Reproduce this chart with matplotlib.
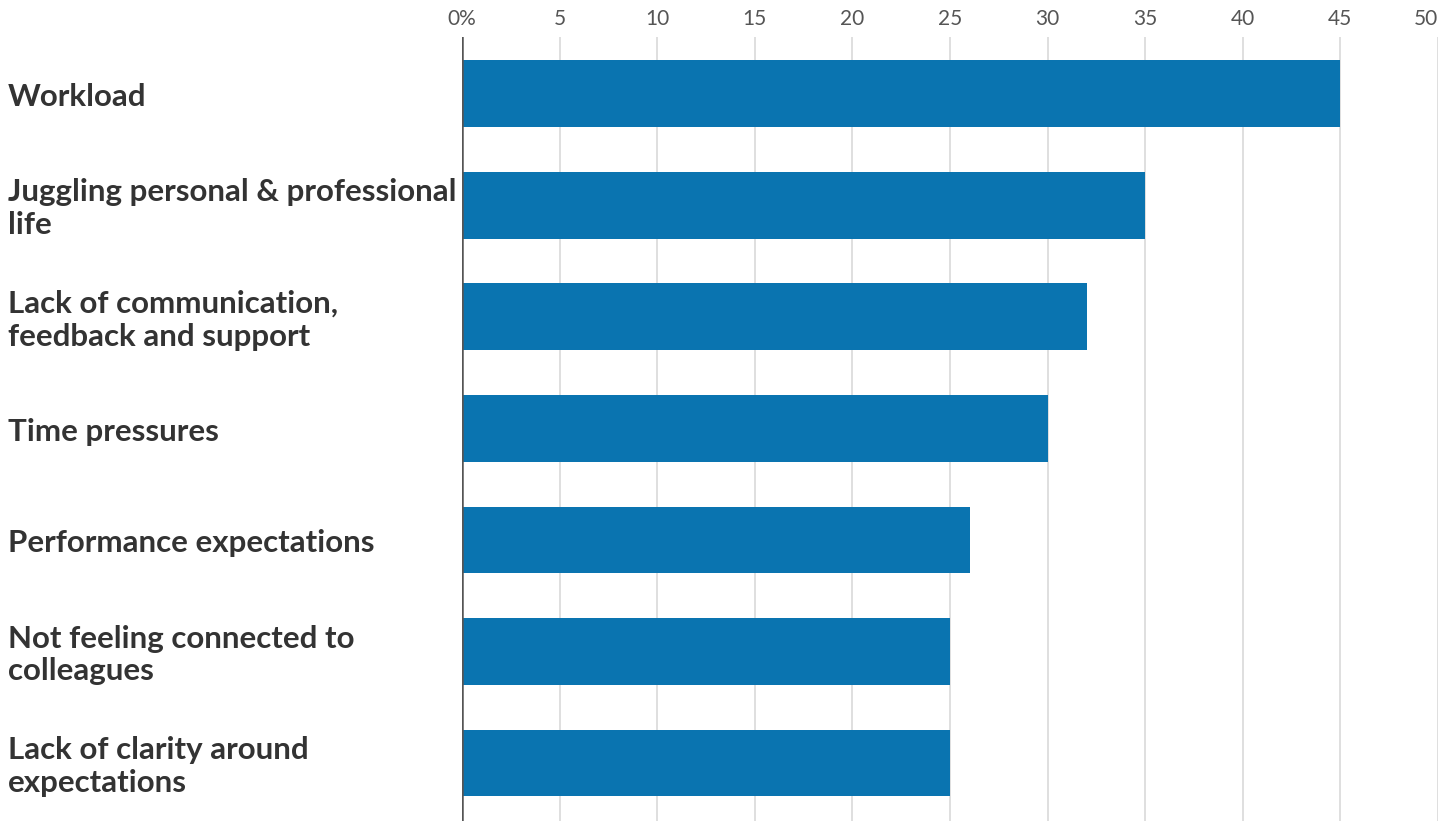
import matplotlib.pyplot as plt
from matplotlib.transforms import blended_transform_factory

categories = [
    "Workload",
    "Juggling personal & professional\nlife",
    "Lack of communication,\nfeedback and support",
    "Time pressures",
    "Performance expectations",
    "Not feeling connected to\ncolleagues",
    "Lack of clarity around\nexpectations",
]
values = [45, 35, 32, 30, 26, 25, 25]
tick_values = [0, 5, 10, 15, 20, 25, 30, 35, 40, 45, 50]
tick_labels = ["0%", "5", "10", "15", "20", "25", "30", "35", "40", "45", "50"]

plt.rcParams['font.family'] = ['Lato', 'DejaVu Sans']

fig = plt.figure(figsize=(14.44, 8.21), dpi=100)
ax = fig.add_axes([462 / 1444, 0, (1438 - 462) / 1444, 1 - 37 / 821])

y = list(range(len(categories)))
ax.barh(y, values, height=0.6, color='#0a74b0', zorder=3)
ax.set_ylim(len(categories) - 0.5 + 0.02, -0.5 - 0.01)
ax.set_xlim(0, 50)

# grid
for t in tick_values[1:]:
    ax.axvline(t, color='#dcdcdc', lw=1.3, zorder=1)
ax.axvline(0, color='#555555', lw=1.8, zorder=4)

ax.xaxis.tick_top()
ax.set_xticks(tick_values)
ax.set_xticklabels(tick_labels, fontsize=15, color='#555555')
ax.get_xticklabels()[-1].set_ha('right')
ax.tick_params(axis='x', length=0, pad=6)
ax.set_yticks([])
for s in ax.spines.values():
    s.set_visible(False)

trans = blended_transform_factory(fig.transFigure, ax.transData)
for i, label in enumerate(categories):
    ax.text(8 / 1444, i + 0.03, label, transform=trans, ha='left', va='center',
            fontsize=22.5, fontweight='bold', color='#333333', linespacing=1.2)

fig.savefig('out.png', dpi=100)
